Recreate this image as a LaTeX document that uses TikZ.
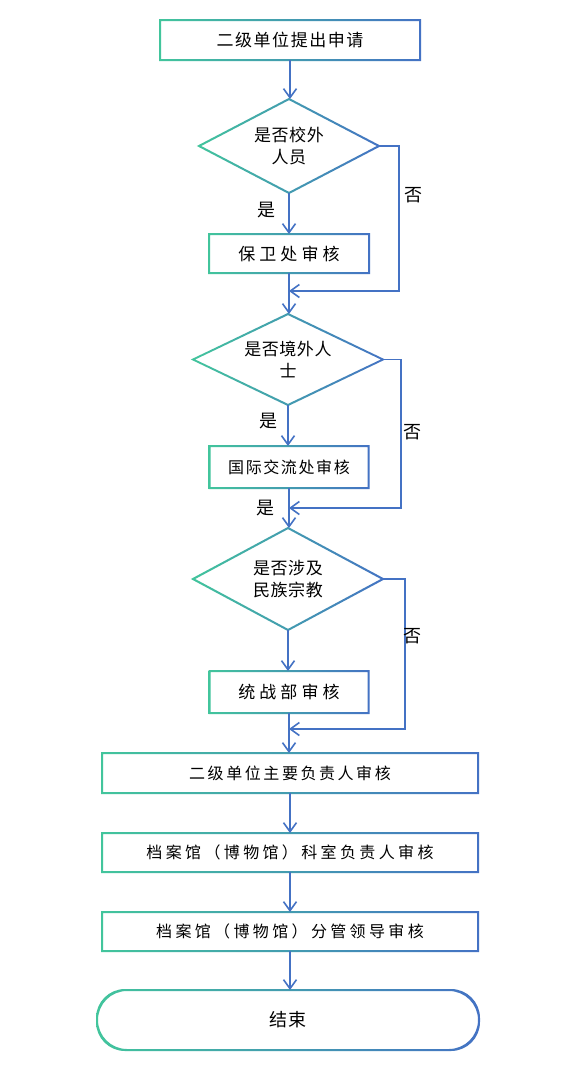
\documentclass[tikz,border=0pt]{standalone}
\usepackage{fontspec}
\setmainfont{Noto Sans CJK SC}
\usetikzlibrary{arrows.meta,shapes.geometric,calc}
\definecolor{gA}{RGB}{66,197,156}
\definecolor{gB}{RGB}{68,114,196}
\definecolor{lineblue}{RGB}{68,114,196}
\newcommand\gbox[1]{\shade[gborder] ($(#1.south west)+(-1pt,-1pt)$) rectangle ($(#1.north east)+(1pt,1pt)$) ($(#1.south west)+(1pt,1pt)$) rectangle ($(#1.north east)+(-1pt,-1pt)$);}
\newcommand\gdia[1]{\shade[gborder] ($(#1.north)+(0,1.13pt)$) -- ($(#1.east)+(2.16pt,0)$) -- ($(#1.south)+(0,-1.13pt)$) -- ($(#1.west)+(-2.16pt,0)$) -- cycle ($(#1.north)+(0,-1.13pt)$) -- ($(#1.east)+(-2.16pt,0)$) -- ($(#1.south)+(0,1.13pt)$) -- ($(#1.west)+(2.16pt,0)$) -- cycle;}
\newcommand\gterm[1]{\shade[gborder,rounded corners=29pt] ($(#1.south west)+(-1pt,-1pt)$) rectangle ($(#1.north east)+(1pt,1pt)$) ($(#1.south west)+(1pt,1pt)$) rectangle ($(#1.north east)+(-1pt,-1pt)$);}
\newcommand\lsp[1]{\addfontfeature{LetterSpace=#1}}
\begin{document}
\begin{tikzpicture}[x=1pt,y=-1pt,
  gborder/.style={even odd rule,left color=gA,right color=gB},
  boxn/.style={rectangle,inner sep=0pt,outer sep=0pt,align=center,text=black},
  dian/.style={diamond,aspect=2,inner sep=0pt,outer sep=0pt,align=center,text=black,
     font=\fontsize{17pt}{22pt}\selectfont\lsp{3}},
  arr/.style={draw=lineblue,line width=1.6pt,-{Straight Barb[length=9pt,width=13pt]}},
  lab/.style={inner sep=0pt,text=black,font=\fontsize{18pt}{20pt}\selectfont}]
\fill[white] (0,0) rectangle (564,1068);
\useasboundingbox (0,0) rectangle (564,1068);
% nodes
\node[boxn,minimum width=260pt,minimum height=40pt,font=\fontsize{17pt}{20pt}\selectfont\lsp{9}] (b1) at (290,40) {二级单位提出申请};
\node[dian,minimum width=180pt,minimum height=94pt] (d1) at (289,146) {是否校外\\人员};
\node[boxn,minimum width=160pt,minimum height=39pt,font=\fontsize{17pt}{20pt}\selectfont\lsp{24}] (b2) at (289,253.5) {保卫处审核};
\node[dian,minimum width=190pt,minimum height=91pt] (d2) at (288,359.5) {是否境外人\\士};
\node[boxn,minimum width=159pt,minimum height=42pt,font=\fontsize{16pt}{20pt}\selectfont\lsp{10}] (b3) at (289,467) {国际交流处审核};
\node[dian,minimum width=190pt,minimum height=102pt] (d3) at (288,579) {是否涉及\\民族宗教};
\node[boxn,minimum width=159pt,minimum height=42pt,font=\fontsize{17pt}{20pt}\selectfont\lsp{24}] (b4) at (289,692) {统战部审核};
\node[boxn,minimum width=376pt,minimum height=40pt,font=\fontsize{16pt}{20pt}\selectfont\lsp{16}] (b5) at (290,773) {二级单位主要负责人审核};
\node[boxn,minimum width=376pt,minimum height=39pt,font=\fontsize{16pt}{20pt}\selectfont\lsp{21}] (b6) at (290,852.5) {档案馆（博物馆）科室负责人审核};
\node[boxn,minimum width=376pt,minimum height=39pt,font=\fontsize{16pt}{20pt}\selectfont\lsp{21}] (b7) at (290,931.5) {档案馆（博物馆）分管领导审核};
\node[boxn,minimum width=382pt,minimum height=60pt,font=\fontsize{18pt}{20pt}\selectfont\lsp{5}] (e) at (288,1020) {结束};
% gradient borders
\gbox{b1}\gdia{d1}\gbox{b2}\gdia{d2}\gbox{b3}\gdia{d3}\gbox{b4}\gbox{b5}\gbox{b6}\gbox{b7}\gterm{e}
% merge points
\coordinate (m1) at (289,291);
\coordinate (m2) at (289,508);
\coordinate (m3) at (289,729);
% connectors
\draw[arr] (b1.south) -- (d1.north -| b1.south);
\draw[arr] (d1.south) -- (b2.north -| d1.south);
\draw[arr] (d1.east) -- ++(20,0) |- (m1);
\draw[arr] (b2.south) -- (d2.north -| b2.south);
\draw[arr] (d2.south) -- (b3.north -| d2.south);
\draw[arr] (d2.east) -- ++(18,0) |- (m2);
\draw[arr] (b3.south) -- (d3.north -| b3.south);
\draw[arr] (d3.south) -- (b4.north -| d3.south);
\draw[arr] (d3.east) -- ++(22,0) |- (m3);
\draw[arr] (b4.south) -- (b5.north -| b4.south);
\draw[arr] (b5.south) -- (b6.north -| b5.south);
\draw[arr] (b6.south) -- (b7.north -| b6.south);
\draw[arr] (b7.south) -- (e.north -| b7.south);
% labels
\node[lab] (l1) at (266,210) {是};
\node[lab] (l2) at (413,195) {否};
\node[lab] (l3) at (268,421) {是};
\node[lab] (l4) at (412,432) {否};
\node[lab] (l5) at (265,508) {是};
\node[lab] (l6) at (412,636) {否};
\end{tikzpicture}
\end{document}
